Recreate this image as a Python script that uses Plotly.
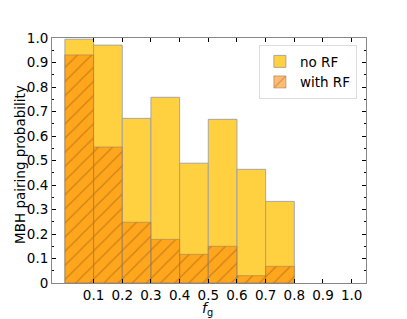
import plotly.graph_objects as go

bin_left = [0.0, 0.1, 0.2, 0.3, 0.4, 0.5, 0.6, 0.7]
no_rf = [0.995, 0.971, 0.672, 0.758, 0.489, 0.668, 0.464, 0.333]
with_rf = [0.931, 0.555, 0.248, 0.178, 0.117, 0.150, 0.030, 0.068]
x_ticks = [0.1, 0.2, 0.3, 0.4, 0.5, 0.6, 0.7, 0.8, 0.9, 1.0]
x_tick_text = ["0.1", "0.2", "0.3", "0.4", "0.5", "0.6", "0.7", "0.8", "0.9", "1.0"]
y_ticks = [0, 0.1, 0.2, 0.3, 0.4, 0.5, 0.6, 0.7, 0.8, 0.9, 1.0]
y_tick_text = ["0", "0.1", "0.2", "0.3", "0.4", "0.5", "0.6", "0.7", "0.8", "0.9", "1.0"]

centers = [b + 0.05 for b in bin_left]

fig = go.Figure()
fig.add_trace(go.Bar(
    x=centers, y=no_rf, width=0.1, name="no RF",
    marker=dict(color="#FFD040", line=dict(color="rgba(160,160,160,0.9)", width=1)),
))
fig.add_trace(go.Bar(
    x=centers, y=with_rf, width=0.1, name="with RF",
    marker=dict(color="rgba(255,130,0,0.55)",
                line=dict(color="rgba(160,130,90,0.6)", width=1),
                pattern=dict(shape="/", size=10, solidity=0.12,
                             fgcolor="rgba(110,70,10,0.75)")),
))

axis_common = dict(
    ticks="inside", ticklen=4, tickcolor="black", showline=True,
    linecolor="#888888", linewidth=1, mirror="ticks", showgrid=False,
    zeroline=False, automargin=False,
    tickfont=dict(family="DejaVu Sans", size=13.5, color="black"),
)

# the page body has an 8px margin, so the figure is 8px smaller and shifted
fig.update_layout(
    width=399, height=311,
    margin=dict(l=44, r=41, t=30, b=36, autoexpand=False),
    plot_bgcolor="white", paper_bgcolor="white",
    barmode="overlay",
    font=dict(family="DejaVu Sans", size=13.5, color="black"),
    xaxis=dict(range=[-0.045, 1.05], tickvals=x_ticks, ticktext=x_tick_text,
               **axis_common),
    yaxis=dict(range=[0, 1.0], tickvals=y_ticks, ticktext=y_tick_text,
               minor=dict(ticks="inside", ticklen=2, dtick=0.05, tick0=0,
                          tickcolor="black"),
               **axis_common),
    legend=dict(x=0.971, y=0.971, xanchor="right", yanchor="top",
                bgcolor="white", bordercolor="#dddddd", borderwidth=1,
                font=dict(size=13.5), traceorder="normal",
                itemwidth=30),
    showlegend=True,
    annotations=[
        dict(text="<i>f</i><sub>g</sub>", xref="paper", yref="paper",
             x=0.495, y=-0.108, xanchor="center", yanchor="middle",
             showarrow=False, font=dict(size=14)),
        dict(text="MBH pairing probability", xref="paper", yref="paper",
             x=-0.102, y=0.486, xanchor="center", yanchor="middle",
             textangle=-90, showarrow=False, font=dict(size=13.5)),
    ],
)

fig.write_html("out.html")
